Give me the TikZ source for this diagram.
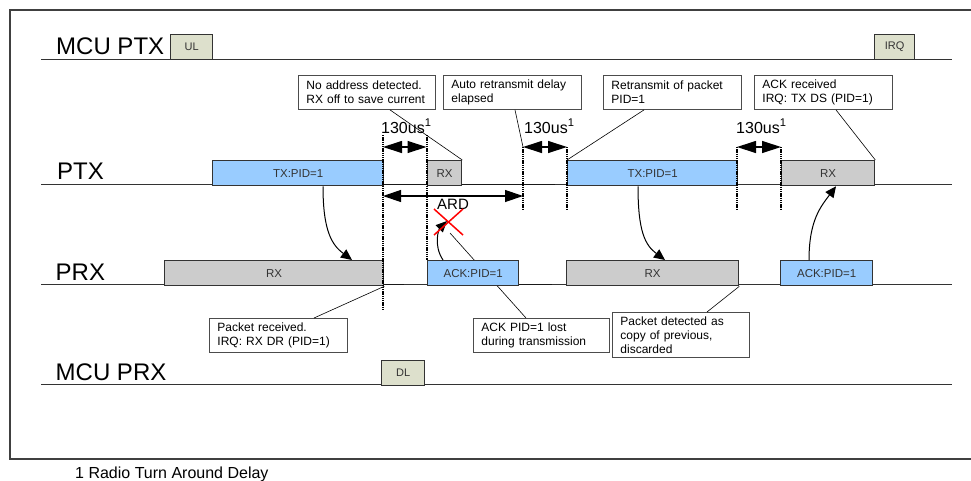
\documentclass[tikz,border=0pt]{standalone}
\usepackage{fontspec}
\setmainfont{Liberation Sans}
\usetikzlibrary{arrows.meta,calc}
\definecolor{blue1}{HTML}{99CCFF}
\definecolor{gray1}{HTML}{CCCCCC}
\definecolor{mcu1}{HTML}{DDE0CC}
\begin{document}
\begin{tikzpicture}[x=1pt,y=-1pt,
  tl/.style={line width=1.3pt,draw=black!80},
  frm/.style={line width=1.3pt,draw=black!75},
  pbox/.style={draw=black!80,line width=1.3pt,inner sep=0pt,anchor=north west,font=\fontsize{11.5pt}{13pt}\selectfont,text=black!80},
  bluebox/.style={pbox,fill=blue1},
  graybox/.style={pbox,fill=gray1},
  mcubox/.style={pbox,fill=mcu1,font=\fontsize{11pt}{13pt}\selectfont},
  callout/.style={draw=black!70,line width=0.9pt,fill=white,anchor=north west,inner xsep=8pt,inner ysep=0pt,align=left,font=\fontsize{12pt}{14pt}\selectfont},
  cline/.style={line width=0.6pt,draw=black},
  vdot/.style={line width=2pt,dash pattern=on 1.3pt off 0.9pt,draw=black},
  dly/.style={line width=1.2pt,{Triangle[length=19pt,width=12pt]}-{Triangle[length=19pt,width=12pt]}},
  ardarrow/.style={line width=1.2pt,{Triangle[length=18pt,width=12pt]}-{Triangle[length=18pt,width=12pt]}},
  sig/.style={line width=1pt,-{Triangle[length=11pt,width=10pt]}},
  lane/.style={anchor=base west,inner sep=0pt,font=\fontsize{24pt}{28pt}\selectfont},
  usl/.style={anchor=base west,inner sep=0pt,font=\fontsize{16pt}{18pt}\selectfont},
]
\useasboundingbox (0,0) rectangle (971,480);
\clip (0,0) rectangle (971,480);
% frame
\draw[frm] (980,10) -- (10,10) -- (10,459) -- (980,459);
% timelines
\draw[tl] (41,59.5) -- (952,59.5);
\draw[tl] (41,184.5) -- (952,184.5);
\draw[tl] (41,284.5) -- (952,284.5);
\draw[tl] (41,384.5) -- (952,384.5);
\draw[line width=1.7pt,black!90] (383,184.5) -- (427,184.5) (461,184.5) -- (555,184.5);
\draw[line width=1.7pt,black!90] (383,284.5) -- (404,284.5) (518,284.5) -- (552,284.5);
% lane labels
\node[lane] (lmcuptx) at (56,54) {MCU PTX};
\node[lane] (lptx) at (57,179) {PTX};
\node[lane] (lprx) at (55.5,280) {PRX};
\node[lane] (lmcuprx) at (55.5,380) {MCU PRX};
% callouts
\node[callout,text width=121pt,minimum height=34pt] (c1) at (298,75) {No address detected.\\RX off to save current};
\node[callout,text width=122pt,minimum height=34pt] (c2) at (443,75) {Auto retransmit delay\\elapsed};
\node[callout,text width=122pt,minimum height=34pt] (c3) at (603,75) {Retransmit of packet\\PID=1};
\node[callout,text width=122pt,minimum height=34pt] (c4) at (754,75) {ACK received\\IRQ: TX DS (PID=1)};
\node[callout,text width=122pt,minimum height=34pt] (c5) at (209,318) {Packet received.\\IRQ: RX DR (PID=1)};
\node[callout,text width=120pt,minimum height=34pt] (c6) at (473,318) {ACK PID=1 lost\\during transmission};
\node[callout,text width=121pt,minimum height=45pt] (c7) at (612,312) {Packet detected as\\copy of previous,\\discarded};
\coordinate (lost) at (447,221);
\coordinate (lostx) at (450,233);
% callout line behind ack box
\draw[cline] ($(c6.north west)+(53,0)$) -- (lostx);
% boxes
\node[mcubox,minimum width=42pt,minimum height=25pt] (ul) at (170,34) {UL};
\node[mcubox,minimum width=40pt,minimum height=25pt] (irq) at (874,34) {IRQ};
\node[mcubox,minimum width=43pt,minimum height=24.5pt] (dl) at (381,360) {DL};
\node[bluebox,minimum width=171pt,minimum height=25pt] (tx1) at (212,160) {TX:PID=1};
\node[graybox,minimum width=34pt,minimum height=25pt] (rx1) at (427,160) {RX};
\node[bluebox,minimum width=170pt,minimum height=25pt] (tx2) at (567,160) {TX:PID=1};
\node[graybox,minimum width=93pt,minimum height=25pt] (rx2) at (781,160) {RX};
\node[graybox,minimum width=219pt,minimum height=25pt] (prx1) at (164,260) {RX};
\node[bluebox,minimum width=91pt,minimum height=25pt] (ack1) at (427,260) {ACK:PID=1};
\node[graybox,minimum width=172pt,minimum height=25pt] (prx2) at (566,260) {RX};
\node[bluebox,minimum width=92pt,minimum height=25pt] (ack2) at (780,260) {ACK:PID=1};
% callout lines
\draw[cline] ($(c1.south west)+(92,0)$) -- (rx1.north east);
\coordinate (d3top) at (523,147);
\draw[cline] ($(c2.south west)+(72,0)$) -- (d3top);
\draw[cline] ($(c3.south west)+(41,0)$) -- (tx2.north west);
\draw[cline] ($(c4.south west)+(82,0)$) -- (rx2.north east);
\draw[cline] ($(c5.north west)+(105,0)$) -- (prx1.south east);
\draw[cline] ($(c7.north west)+(95,0)$) -- (prx2.south east);
% dotted verticals
\draw[vdot] (383,135) -- (383,310);
\draw[vdot] (426.5,135) -- (426.5,260);
\draw[vdot] (d3top) -- (523,209);
\draw[vdot] (567,147) -- (567,209);
\draw[vdot] (737,147) -- (737,209);
\draw[vdot] (781,147) -- (781,209);
% delay arrows
\draw[dly] (383,147) -- (426.5,147);
\draw[dly] (523,147) -- (567,147);
\draw[dly] (737,147) -- (781,147);
\draw[ardarrow] (383,196) -- (523,196);
\node[usl] (us1) at (381,133) {130us\textsuperscript{1}};
\node[usl] (us2) at (524,133) {130us\textsuperscript{1}};
\node[usl] (us3) at (736,133) {130us\textsuperscript{1}};
\node[anchor=base west,inner sep=0pt,font=\fontsize{15pt}{17pt}\selectfont] (ardl) at (437,209) {ARD};
% signal arrows
\draw[sig] ($(tx1.south west)+(111,0)$) .. controls +(0,45) and +(-20,-15) .. ($(prx1.north west)+(188,0)$);
\draw[sig] ($(tx2.south west)+(71,0)$) .. controls +(0,45) and +(-20,-15) .. ($(prx2.north west)+(99,0)$);
\draw[sig] ($(ack2.north west)+(29,0)$) .. controls +(0,-40) and +(-15,20) .. ($(rx2.south west)+(55,0)$);
\draw[sig] ($(ack1.north west)+(16,0)$) .. controls +(-10,-15) and +(-8,8) .. (lost);
% red cross
\draw[red,line width=1.5pt] (434,209) -- (463,235) (463,209) -- (434,235);
% footnote
\node[anchor=base west,inner sep=0pt,font=\fontsize{16pt}{18pt}\selectfont] (fn) at (75,478) {1 Radio Turn Around Delay};
\end{tikzpicture}
\end{document}
